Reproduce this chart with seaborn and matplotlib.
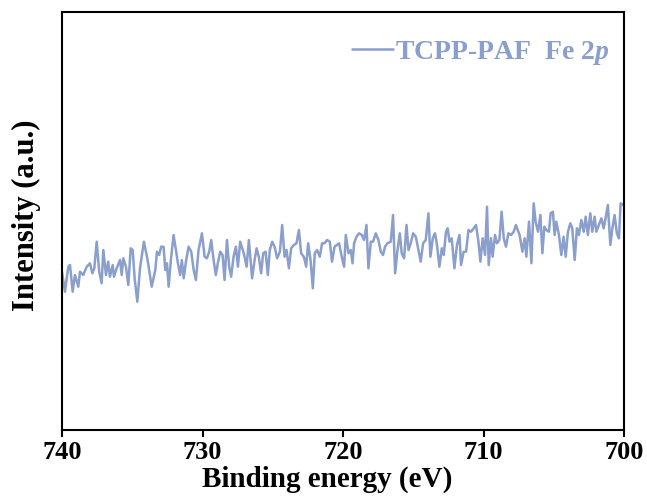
import matplotlib
matplotlib.use("Agg")
import matplotlib.pyplot as plt
import seaborn as sns
import pandas as pd

# Binding energy (eV) and intensity (a.u.)
energy = [740.00, 739.79, 739.55, 739.43, 739.24, 739.08, 738.84, 738.72, 738.49, 738.24,
          738.01, 737.84, 737.70, 737.53, 737.35, 737.18, 737.06, 736.87, 736.71, 736.59,
          736.39, 736.30, 736.11, 735.87, 735.75, 735.64, 735.45, 735.28, 735.11, 734.97,
          734.83, 734.64, 734.45, 734.17, 733.93, 733.74, 733.62, 733.36, 733.24, 733.08,
          732.94, 732.77, 732.65, 732.53, 732.41, 732.25, 732.06, 731.89, 731.75, 731.59,
          731.47, 731.34, 731.18, 730.99, 730.80, 730.63, 730.47, 730.28, 730.04, 729.85,
          729.69, 729.52, 729.38, 729.21, 729.05, 728.91, 728.74, 728.57, 728.43, 728.26,
          728.10, 727.96, 727.79, 727.62, 727.48, 727.32, 727.06, 726.86, 726.70, 726.58,
          726.47, 726.29, 726.15, 725.99, 725.83, 725.68, 725.51, 725.35, 725.21, 725.04,
          724.87, 724.69, 724.49, 724.33, 724.16, 724.02, 723.85, 723.69, 723.50, 723.31,
          723.14, 722.98, 722.79, 722.62, 722.48, 722.31, 722.15, 722.01, 721.84, 721.65,
          721.49, 721.32, 721.13, 720.94, 720.78, 720.60, 720.28, 720.09, 719.92, 719.80,
          719.61, 719.45, 719.32, 719.21, 719.04, 718.86, 718.66, 718.50, 718.33, 718.19,
          718.02, 717.86, 717.67, 717.48, 717.31, 717.15, 717.01, 716.84, 716.60, 716.44,
          716.29, 716.12, 715.96, 715.82, 715.65, 715.48, 715.34, 715.18, 715.01, 714.82,
          714.63, 714.47, 714.30, 714.11, 713.92, 713.78, 713.61, 713.45, 713.31, 713.14,
          712.97, 712.83, 712.67, 712.55, 712.42, 712.26, 712.07, 711.89, 711.71, 711.60,
          711.41, 711.24, 711.07, 710.89, 710.70, 710.53, 710.36, 710.22, 710.06, 709.89,
          709.75, 709.63, 709.47, 709.35, 709.18, 709.04, 708.87, 708.71, 708.56, 708.40,
          708.23, 708.04, 707.85, 707.69, 707.52, 707.43, 707.23, 707.07, 706.95, 706.76,
          706.59, 706.43, 706.29, 706.12, 705.95, 705.81, 705.67, 705.53, 705.34, 705.22,
          705.06, 704.94, 704.82, 704.63, 704.46, 704.30, 704.15, 703.99, 703.82, 703.68,
          703.51, 703.35, 703.21, 703.04, 702.87, 702.73, 702.57, 702.40, 702.26, 702.09,
          701.97, 701.79, 701.61, 701.45, 701.31, 701.15, 700.97, 700.83, 700.67, 700.51,
          700.36, 700.24, 700.05]

intensity = [158.3, 138.3, 163.3, 165.0, 138.3, 155.0, 143.3, 158.3, 155.0, 163.3,
             166.7, 156.7, 161.7, 188.3, 158.3, 146.7, 180.0, 155.0, 168.3, 153.3,
             165.0, 153.3, 161.7, 170.0, 155.0, 171.7, 163.3, 145.0, 181.7, 180.0,
             151.7, 128.3, 161.7, 188.3, 171.7, 155.0, 143.3, 160.0, 178.3, 175.0,
             183.3, 183.3, 160.0, 166.7, 143.3, 170.0, 195.0, 180.0, 166.7, 155.0,
             170.0, 151.7, 168.3, 183.3, 178.3, 160.0, 150.0, 180.0, 196.7, 173.3,
             171.7, 178.3, 190.0, 170.0, 155.0, 166.7, 178.3, 175.0, 150.0, 190.0,
             163.3, 153.3, 173.3, 183.3, 163.3, 188.3, 176.7, 163.3, 190.0, 170.0,
             151.7, 170.0, 181.7, 173.3, 156.7, 176.7, 178.3, 155.0, 180.0, 188.3,
             183.3, 171.7, 178.3, 205.0, 173.3, 180.0, 161.7, 181.7, 185.0, 186.7,
             200.0, 176.7, 173.3, 163.3, 186.7, 170.0, 141.7, 176.7, 180.0, 173.3,
             186.7, 186.7, 190.0, 188.3, 168.3, 183.3, 186.7, 173.3, 163.3, 195.0,
             176.7, 180.0, 166.7, 186.7, 193.3, 196.7, 195.0, 190.0, 205.0, 161.7,
             188.3, 188.3, 196.7, 190.0, 178.3, 175.0, 183.3, 186.7, 188.3, 215.0,
             156.7, 180.0, 196.7, 176.7, 171.7, 205.0, 180.0, 186.7, 196.7, 193.3,
             180.0, 168.3, 186.7, 190.0, 216.7, 173.3, 191.7, 196.7, 185.0, 163.3,
             181.7, 175.0, 198.3, 201.7, 188.3, 191.7, 161.7, 185.0, 195.0, 165.0,
             178.3, 178.3, 200.0, 198.3, 201.7, 205.0, 188.3, 168.3, 191.7, 175.0,
             223.3, 165.0, 191.7, 173.3, 195.0, 186.7, 190.0, 218.3, 191.7, 183.3,
             196.7, 195.0, 198.3, 205.0, 198.3, 195.0, 178.3, 191.7, 173.3, 208.3,
             166.7, 226.7, 208.3, 198.3, 215.0, 176.7, 203.3, 200.0, 198.3, 216.7,
             218.3, 195.0, 208.3, 195.0, 175.0, 193.3, 173.3, 198.3, 206.7, 201.7,
             170.0, 201.7, 195.0, 210.0, 198.3, 213.3, 195.0, 216.7, 198.3, 213.3,
             198.3, 205.0, 211.7, 201.7, 211.7, 225.0, 185.0, 201.7, 215.0, 196.7,
             191.7, 226.7, 225.0]

x_ticks = [740, 730, 720, 710, 700]
series_label = "TCPP-PAF  Fe 2$\\mathbfit{p}$"
line_color = "#8a9fcb"

sns.set_theme(style="ticks")
plt.rcParams["font.family"] = ["Liberation Serif", "DejaVu Serif"]
plt.rcParams["font.weight"] = "bold"
plt.rcParams["text.color"] = "black"
plt.rcParams["axes.labelcolor"] = "black"
plt.rcParams["xtick.color"] = "black"
plt.rcParams["ytick.color"] = "black"
plt.rcParams["mathtext.fontset"] = "custom"
plt.rcParams["mathtext.rm"] = "Liberation Serif:bold"
plt.rcParams["mathtext.it"] = "Liberation Serif:italic:bold"
plt.rcParams["mathtext.bf"] = "Liberation Serif:bold"
plt.rcParams["mathtext.bfit"] = "Liberation Serif:italic:bold"

df = pd.DataFrame({"energy": energy, "intensity": intensity})

fig = plt.figure(figsize=(6.47, 5.03), dpi=100)
ax = fig.add_axes([62 / 647, 73 / 503, 562 / 647, 418 / 503])

sns.lineplot(data=df, x="energy", y="intensity", ax=ax, color=line_color,
             linewidth=1.8, estimator=None, label=series_label)

ax.set_xlim(740, 700)
ax.set_ylim(0, 418)
ax.set_xticks(x_ticks)
ax.set_xticklabels([str(t) for t in x_ticks], fontsize=19, fontweight="bold",
                   color="black")
ax.set_yticks([])
ax.tick_params(axis="x", direction="out", length=5, width=1.5, pad=3, colors="black")
for s in ax.spines.values():
    s.set_visible(True)
    s.set_linewidth(1.5)
    s.set_color("black")

ax.set_xlabel("Binding energy (eV)", fontsize=21, fontweight="bold", labelpad=1,
              color="black")
ax.xaxis.label.set_x(0.4715)
ax.set_ylabel("Intensity (a.u.)", fontsize=22, fontweight="bold", labelpad=15,
              color="black")
ax.yaxis.label.set_y(0.514)

leg = ax.legend(loc="upper right", bbox_to_anchor=(0.995, 0.963), frameon=False,
                handlelength=1.45, handletextpad=0.1, borderaxespad=0.0,
                labelcolor="linecolor",
                prop={"family": "Liberation Serif", "weight": "bold", "size": 20})

fig.savefig("out.png", dpi=100)
